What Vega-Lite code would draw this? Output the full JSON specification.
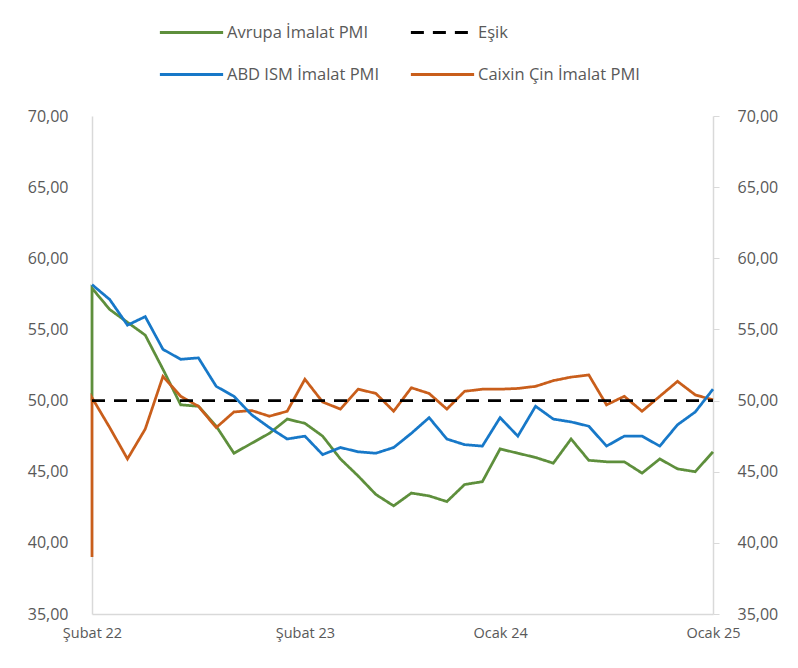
{
  "$schema": "https://vega.github.io/schema/vega-lite/v6.json",
  "width": 621,
  "height": 498,
  "autosize": {"type": "none"},
  "padding": {"left": 92, "top": 116, "right": 85, "bottom": 54},
  "background": "white",
  "config": {"font": "Open Sans", "view": {"stroke": null}},
  "data": {"values": [
    {"ay": "2022-02", "sira": -1, "Avrupa İmalat PMI": 50, "Caixin Çin İmalat PMI": 39},
    {"ay": "2022-02", "sira": 0, "Avrupa İmalat PMI": 57.9, "Eşik": 50, "ABD ISM İmalat PMI": 58.15, "Caixin Çin İmalat PMI": 50.2},
    {"ay": "2022-03", "sira": 0, "Avrupa İmalat PMI": 56.4, "Eşik": 50, "ABD ISM İmalat PMI": 57.1, "Caixin Çin İmalat PMI": 48.1},
    {"ay": "2022-04", "sira": 0, "Avrupa İmalat PMI": 55.5, "Eşik": 50, "ABD ISM İmalat PMI": 55.3, "Caixin Çin İmalat PMI": 45.9},
    {"ay": "2022-05", "sira": 0, "Avrupa İmalat PMI": 54.6, "Eşik": 50, "ABD ISM İmalat PMI": 55.9, "Caixin Çin İmalat PMI": 48.0},
    {"ay": "2022-06", "sira": 0, "Avrupa İmalat PMI": 52.2, "Eşik": 50, "ABD ISM İmalat PMI": 53.6, "Caixin Çin İmalat PMI": 51.7},
    {"ay": "2022-07", "sira": 0, "Avrupa İmalat PMI": 49.7, "Eşik": 50, "ABD ISM İmalat PMI": 52.9, "Caixin Çin İmalat PMI": 50.3},
    {"ay": "2022-08", "sira": 0, "Avrupa İmalat PMI": 49.6, "Eşik": 50, "ABD ISM İmalat PMI": 53.0, "Caixin Çin İmalat PMI": 49.6},
    {"ay": "2022-09", "sira": 0, "Avrupa İmalat PMI": 48.2, "Eşik": 50, "ABD ISM İmalat PMI": 51.0, "Caixin Çin İmalat PMI": 48.1},
    {"ay": "2022-10", "sira": 0, "Avrupa İmalat PMI": 46.3, "Eşik": 50, "ABD ISM İmalat PMI": 50.3, "Caixin Çin İmalat PMI": 49.2},
    {"ay": "2022-11", "sira": 0, "Avrupa İmalat PMI": 47.0, "Eşik": 50, "ABD ISM İmalat PMI": 49.0, "Caixin Çin İmalat PMI": 49.3},
    {"ay": "2022-12", "sira": 0, "Avrupa İmalat PMI": 47.7, "Eşik": 50, "ABD ISM İmalat PMI": 48.1, "Caixin Çin İmalat PMI": 48.9},
    {"ay": "2023-01", "sira": 0, "Avrupa İmalat PMI": 48.7, "Eşik": 50, "ABD ISM İmalat PMI": 47.3, "Caixin Çin İmalat PMI": 49.25},
    {"ay": "2023-02", "sira": 0, "Avrupa İmalat PMI": 48.4, "Eşik": 50, "ABD ISM İmalat PMI": 47.5, "Caixin Çin İmalat PMI": 51.5},
    {"ay": "2023-03", "sira": 0, "Avrupa İmalat PMI": 47.5, "Eşik": 50, "ABD ISM İmalat PMI": 46.2, "Caixin Çin İmalat PMI": 49.9},
    {"ay": "2023-04", "sira": 0, "Avrupa İmalat PMI": 45.9, "Eşik": 50, "ABD ISM İmalat PMI": 46.7, "Caixin Çin İmalat PMI": 49.4},
    {"ay": "2023-05", "sira": 0, "Avrupa İmalat PMI": 44.7, "Eşik": 50, "ABD ISM İmalat PMI": 46.4, "Caixin Çin İmalat PMI": 50.8},
    {"ay": "2023-06", "sira": 0, "Avrupa İmalat PMI": 43.4, "Eşik": 50, "ABD ISM İmalat PMI": 46.3, "Caixin Çin İmalat PMI": 50.5},
    {"ay": "2023-07", "sira": 0, "Avrupa İmalat PMI": 42.6, "Eşik": 50, "ABD ISM İmalat PMI": 46.7, "Caixin Çin İmalat PMI": 49.25},
    {"ay": "2023-08", "sira": 0, "Avrupa İmalat PMI": 43.5, "Eşik": 50, "ABD ISM İmalat PMI": 47.7, "Caixin Çin İmalat PMI": 50.9},
    {"ay": "2023-09", "sira": 0, "Avrupa İmalat PMI": 43.3, "Eşik": 50, "ABD ISM İmalat PMI": 48.8, "Caixin Çin İmalat PMI": 50.5},
    {"ay": "2023-10", "sira": 0, "Avrupa İmalat PMI": 42.9, "Eşik": 50, "ABD ISM İmalat PMI": 47.3, "Caixin Çin İmalat PMI": 49.4},
    {"ay": "2023-11", "sira": 0, "Avrupa İmalat PMI": 44.1, "Eşik": 50, "ABD ISM İmalat PMI": 46.9, "Caixin Çin İmalat PMI": 50.65},
    {"ay": "2023-12", "sira": 0, "Avrupa İmalat PMI": 44.3, "Eşik": 50, "ABD ISM İmalat PMI": 46.8, "Caixin Çin İmalat PMI": 50.8},
    {"ay": "2024-01", "sira": 0, "Avrupa İmalat PMI": 46.6, "Eşik": 50, "ABD ISM İmalat PMI": 48.8, "Caixin Çin İmalat PMI": 50.8},
    {"ay": "2024-02", "sira": 0, "Avrupa İmalat PMI": 46.3, "Eşik": 50, "ABD ISM İmalat PMI": 47.5, "Caixin Çin İmalat PMI": 50.85},
    {"ay": "2024-03", "sira": 0, "Avrupa İmalat PMI": 46.0, "Eşik": 50, "ABD ISM İmalat PMI": 49.6, "Caixin Çin İmalat PMI": 51.0},
    {"ay": "2024-04", "sira": 0, "Avrupa İmalat PMI": 45.6, "Eşik": 50, "ABD ISM İmalat PMI": 48.7, "Caixin Çin İmalat PMI": 51.4},
    {"ay": "2024-05", "sira": 0, "Avrupa İmalat PMI": 47.3, "Eşik": 50, "ABD ISM İmalat PMI": 48.5, "Caixin Çin İmalat PMI": 51.65},
    {"ay": "2024-06", "sira": 0, "Avrupa İmalat PMI": 45.8, "Eşik": 50, "ABD ISM İmalat PMI": 48.2, "Caixin Çin İmalat PMI": 51.8},
    {"ay": "2024-07", "sira": 0, "Avrupa İmalat PMI": 45.7, "Eşik": 50, "ABD ISM İmalat PMI": 46.8, "Caixin Çin İmalat PMI": 49.7},
    {"ay": "2024-08", "sira": 0, "Avrupa İmalat PMI": 45.7, "Eşik": 50, "ABD ISM İmalat PMI": 47.5, "Caixin Çin İmalat PMI": 50.3},
    {"ay": "2024-09", "sira": 0, "Avrupa İmalat PMI": 44.9, "Eşik": 50, "ABD ISM İmalat PMI": 47.5, "Caixin Çin İmalat PMI": 49.25},
    {"ay": "2024-10", "sira": 0, "Avrupa İmalat PMI": 45.9, "Eşik": 50, "ABD ISM İmalat PMI": 46.8, "Caixin Çin İmalat PMI": 50.3},
    {"ay": "2024-11", "sira": 0, "Avrupa İmalat PMI": 45.2, "Eşik": 50, "ABD ISM İmalat PMI": 48.3, "Caixin Çin İmalat PMI": 51.35},
    {"ay": "2024-12", "sira": 0, "Avrupa İmalat PMI": 45.0, "Eşik": 50, "ABD ISM İmalat PMI": 49.2, "Caixin Çin İmalat PMI": 50.4},
    {"ay": "2025-01", "sira": 0, "Avrupa İmalat PMI": 46.4, "Eşik": 50, "ABD ISM İmalat PMI": 50.8, "Caixin Çin İmalat PMI": 50.05}
  ]},
  "transform": [
    {"fold": ["Avrupa İmalat PMI", "Eşik", "ABD ISM İmalat PMI", "Caixin Çin İmalat PMI"], "as": ["seri", "deger"]},
    {"filter": "isValid(datum.deger)"}
  ],
  "layer": [
    {
      "mark": {"type": "line", "strokeWidth": 2.75},
      "encoding": {
        "x": {"field": "ay", "type": "ordinal", "scale": {"type": "point", "padding": 0},
          "axis": {"values": ["2022-02", "2023-02", "2024-01", "2025-01"],
            "labelExpr": "(slice(datum.value,5)=='01' ? 'Ocak' : 'Şubat') + ' ' + slice(datum.value,2,4)",
            "title": null, "ticks": false, "grid": false, "labelAngle": 0, "domainColor": "#D9D9D9", "domainWidth": 1.5,
            "labelColor": "#595959", "labelFontSize": 14.5, "labelPadding": 12, "labelBound": false, "labelOverlap": false}},
        "y": {"field": "deger", "type": "quantitative", "scale": {"domain": [35, 70], "nice": false, "zero": false},
          "axis": {"values": [35, 40, 45, 50, 55, 60, 65, 70], "labelExpr": "replace(format(datum.value,'.2f'),'.',',')",
            "title": null, "grid": false, "ticks": false, "domainColor": "#D9D9D9", "domainWidth": 1.5,
            "labelColor": "#595959", "labelFontSize": 16, "labelPadding": 24}},
        "color": {"field": "seri", "type": "nominal",
          "scale": {"domain": ["Avrupa İmalat PMI", "ABD ISM İmalat PMI", "Eşik", "Caixin Çin İmalat PMI"],
            "range": ["#5E8F3C", "#1778C8", "#000000", "#C95E1B"]},
          "legend": {"title": null, "orient": "none", "legendX": 66, "legendY": -117, "columns": 2,
            "symbolType": "stroke", "symbolSize": 4000, "symbolStrokeWidth": 3, "labelFontSize": 16.5, "labelColor": "#595959",
            "labelOffset": 2, "columnPadding": 24, "rowPadding": -23, "labelLimit": 300}},
        "strokeDash": {"field": "seri", "type": "nominal",
          "scale": {"domain": ["Avrupa İmalat PMI", "ABD ISM İmalat PMI", "Eşik", "Caixin Çin İmalat PMI"],
            "range": [[1, 0], [1, 0], [13, 9], [1, 0]]},
          "legend": {"title": null, "orient": "none", "legendX": 66, "legendY": -117, "columns": 2,
            "symbolType": "stroke", "symbolSize": 4000, "symbolStrokeWidth": 3, "labelFontSize": 16.5, "labelColor": "#595959",
            "labelOffset": 2, "columnPadding": 24, "rowPadding": -23, "labelLimit": 300}},
        "order": {"field": "sira", "type": "quantitative"}
      }
    },
    {
      "mark": {"type": "point", "opacity": 0},
      "encoding": {
        "x": {"field": "ay", "type": "ordinal"},
        "y": {"field": "deger", "type": "quantitative",
          "axis": {"orient": "right", "values": [35, 40, 45, 50, 55, 60, 65, 70], "labelExpr": "replace(format(datum.value,'.2f'),'.',',')",
            "title": null, "grid": false, "ticks": true, "tickSize": 6, "tickColor": "#D9D9D9", "domainColor": "#D9D9D9", "domainWidth": 1.5,
            "labelColor": "#595959", "labelFontSize": 16, "labelPadding": 18}}
      }
    }
  ],
  "resolve": {"axis": {"y": "independent"}}
}
